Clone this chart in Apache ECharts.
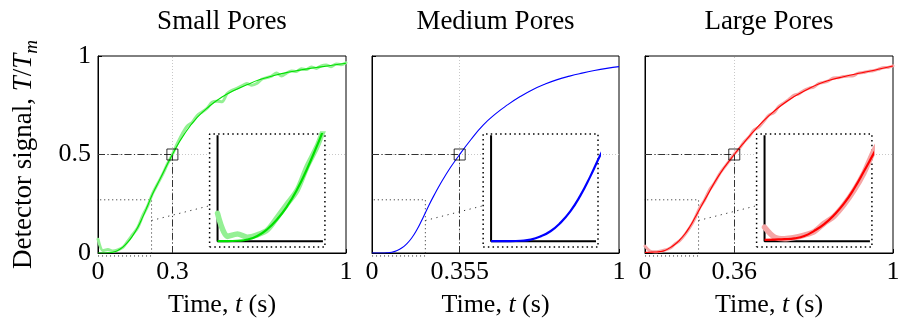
<!DOCTYPE html>
<html>
<head>
<meta charset="utf-8">
<script src="https://cdn.jsdelivr.net/npm/echarts@6/dist/echarts.min.js"></script>
<style>
html,body{margin:0;padding:0;background:#fff}
#main{width:898px;height:323px}
</style>
</head>
<body>
<div id="main"></div>
<script>
var titles = ['Small Pores', 'Medium Pores', 'Large Pores'];
var halfTimes = [0.3, 0.355, 0.36];
var yTicks = [0, 0.5, 1];

// fitted curves
var smallT = [0, 0.02, 0.04, 0.06, 0.08, 0.10, 0.12, 0.14, 0.16, 0.18, 0.20, 0.22, 0.25, 0.30, 0.35, 0.40, 0.45, 0.50, 0.55, 0.60, 0.65, 0.70, 0.75, 0.80, 0.85, 0.90, 0.95, 1.00];
var smallFit = [0.000, 0.000, 0.001, 0.004, 0.013, 0.030, 0.055, 0.088, 0.130, 0.182, 0.240, 0.300, 0.375, 0.500, 0.607, 0.688, 0.746, 0.792, 0.826, 0.854, 0.879, 0.897, 0.913, 0.925, 0.936, 0.945, 0.954, 0.963];
var mediumT = [0, 0.02, 0.04, 0.06, 0.08, 0.10, 0.12, 0.14, 0.16, 0.18, 0.20, 0.22, 0.25, 0.30, 0.355, 0.40, 0.45, 0.50, 0.55, 0.60, 0.65, 0.70, 0.75, 0.80, 0.85, 0.90, 0.95, 1.00];
var mediumFit = [0.000, 0.000, 0.000, 0.001, 0.004, 0.012, 0.025, 0.046, 0.075, 0.114, 0.162, 0.215, 0.290, 0.400, 0.500, 0.575, 0.649, 0.706, 0.753, 0.794, 0.829, 0.857, 0.880, 0.898, 0.913, 0.926, 0.937, 0.946];
var largeT = [0, 0.02, 0.04, 0.06, 0.08, 0.10, 0.12, 0.14, 0.16, 0.18, 0.20, 0.22, 0.25, 0.30, 0.36, 0.40, 0.45, 0.50, 0.55, 0.60, 0.65, 0.70, 0.75, 0.80, 0.85, 0.90, 0.95, 1.00];
var largeFit = [0.003, 0.004, 0.005, 0.007, 0.013, 0.026, 0.043, 0.066, 0.095, 0.132, 0.176, 0.222, 0.290, 0.398, 0.500, 0.562, 0.634, 0.697, 0.750, 0.793, 0.827, 0.858, 0.879, 0.895, 0.909, 0.921, 0.935, 0.949];

// measured signal (small and large pores)
var sampleT = [0, 0.02, 0.04, 0.06, 0.08, 0.10, 0.12, 0.14, 0.16, 0.18, 0.20, 0.22, 0.24, 0.26, 0.28, 0.30, 0.32, 0.34, 0.36, 0.38, 0.40, 0.42, 0.44, 0.46, 0.48, 0.50, 0.52, 0.54, 0.56, 0.58, 0.60, 0.62, 0.64, 0.66, 0.68, 0.70, 0.72, 0.74, 0.76, 0.78, 0.80, 0.82, 0.84, 0.86, 0.88, 0.90, 0.92, 0.94, 0.96, 0.98, 1.00];
var smallData = [0.070, 0.012, 0.018, 0.010, 0.016, 0.028, 0.060, 0.094, 0.128, 0.188, 0.238, 0.302, 0.350, 0.398, 0.452, 0.500, 0.556, 0.606, 0.645, 0.664, 0.698, 0.716, 0.735, 0.765, 0.770, 0.768, 0.808, 0.826, 0.836, 0.848, 0.860, 0.852, 0.860, 0.882, 0.890, 0.898, 0.914, 0.898, 0.913, 0.924, 0.921, 0.935, 0.931, 0.944, 0.937, 0.950, 0.954, 0.946, 0.960, 0.956, 0.966];
var largeData = [0.035, 0.010, 0.006, 0.009, 0.015, 0.024, 0.045, 0.063, 0.092, 0.128, 0.172, 0.228, 0.268, 0.320, 0.355, 0.400, 0.435, 0.468, 0.503, 0.530, 0.565, 0.590, 0.625, 0.640, 0.670, 0.700, 0.712, 0.745, 0.762, 0.780, 0.800, 0.808, 0.825, 0.836, 0.842, 0.860, 0.866, 0.874, 0.888, 0.890, 0.896, 0.898, 0.900, 0.913, 0.916, 0.922, 0.925, 0.932, 0.940, 0.942, 0.950];

// zoomed window (data units) and where its 2x blow-up sits in the panel
var zoomT = [-0.016, 0.216];
var zoomV = [-0.015, 0.27];
var insetT = [0.45, 0.915];
var insetV = [0.03, 0.604];
var insetAxisEnd = [0.212, 0.267];
var linkFrom = [0.216, 0.165];
var linkTo = [0.45, 0.24];

var fits = [[smallT, smallFit], [mediumT, mediumFit], [largeT, largeFit]];
var noisy = [smallData, null, largeData];
var colors = ['#00e000', '#0000ff', '#ff0000'];
var lightColors = ['#94f094', null, '#f5a5a5'];

var font = 'Liberation Serif';
var panelLeft = [98, 372, 645];
var panelWidth = [248, 247, 248];
var panelTop = 56, panelHeight = 197;

function zip(xs, ys){
	return xs.map(function (x, i){ return [x, ys[i]]; });
}
function box(xr, yr){
	return [[xr[0], yr[0]], [xr[1], yr[0]], [xr[1], yr[1]], [xr[0], yr[1]], [xr[0], yr[0]]];
}
function fmt(v){ return String(v); }

var chart = echarts.init(document.getElementById('main'));
var grids = [], xAxes = [], yAxes = [], series = [], graphics = [];

for (var p = 0; p < 3; p++){
	var th = halfTimes[p];
	var gl = panelLeft[p], gw = panelWidth[p];
	var mg = grids.length;   // main panel grid / axes index
	var ig = mg + 1;         // blow-up grid / axes index

	grids.push({
		left: gl, top: panelTop, width: gw, height: panelHeight,
		show: true, borderColor: '#000', borderWidth: 1, backgroundColor: 'transparent',
		containLabel: false, outerBoundsMode: 'none'
	});
	xAxes.push({
		gridIndex: mg, type: 'value', min: 0, max: 1,
		name: 'Time, {i|t} (s)', nameLocation: 'middle', nameGap: 39,
		nameTextStyle: {fontFamily: font, fontSize: 26, color: '#000',
			rich: {i: {fontFamily: font, fontSize: 26, fontStyle: 'italic', color: '#000'}}},
		axisLine: {show: true, lineStyle: {color: '#000', width: 1}},
		axisTick: {show: true, inside: true, length: 4, customValues: [0, th, 1], lineStyle: {color: '#000'}},
		axisLabel: {customValues: [0, th, 1], formatter: fmt, margin: 6, fontFamily: font, fontSize: 26, color: '#000'},
		splitLine: {show: false}
	});
	yAxes.push({
		gridIndex: mg, type: 'value', min: 0, max: 1,
		name: p === 0 ? 'Detector signal, {i|T}/{i|T}{m|m}' : '',
		nameLocation: 'middle', nameGap: 61,
		nameTextStyle: {fontFamily: font, fontSize: 27, color: '#000',
			rich: {
				i: {fontFamily: font, fontSize: 27, fontStyle: 'italic', color: '#000'},
				m: {fontFamily: font, fontSize: 19, fontStyle: 'italic', color: '#000', verticalAlign: 'bottom', padding: [0, 0, -4, 0]}
			}},
		axisLine: {show: true, lineStyle: {color: '#000', width: 1}},
		axisTick: {show: true, inside: true, length: 4, customValues: yTicks, lineStyle: {color: '#000'}},
		axisLabel: {show: p === 0, customValues: yTicks, formatter: fmt, margin: 7, fontFamily: font, fontSize: 26, color: '#000'},
		splitLine: {show: false}
	});

	// blow-up box
	grids.push({
		left: gl + insetT[0] * gw,
		top: panelTop + (1 - insetV[1]) * panelHeight,
		width: (insetT[1] - insetT[0]) * gw,
		height: (insetV[1] - insetV[0]) * panelHeight,
		show: true, borderWidth: 0, backgroundColor: '#fff', z: 10,
		containLabel: false, outerBoundsMode: 'none'
	});
	xAxes.push({gridIndex: ig, type: 'value', min: zoomT[0], max: zoomT[1], show: false});
	yAxes.push({gridIndex: ig, type: 'value', min: zoomV[0], max: zoomV[1], show: false});

	// window outline + guide lines
	series.push({
		type: 'line', xAxisIndex: mg, yAxisIndex: mg, data: box(zoomT, zoomV),
		showSymbol: false, clip: false, silent: true, z: 3,
		lineStyle: {color: '#222', width: 1, type: [1, 3]},
		markLine: {
			silent: true, symbol: ['none', 'none'], label: {show: false}, animation: false,
			data: [
				[{coord: [th, 0], lineStyle: {color: '#c8c8c8', width: 1, type: [1, 2]}}, {coord: [th, 1]}],
				[{coord: [0, 0.5], lineStyle: {color: '#c8c8c8', width: 1, type: [1, 2]}}, {coord: [1, 0.5]}],
				[{coord: [0, 0.5], lineStyle: {color: '#333', width: 1, type: [7, 2.5, 1.2, 2.5]}}, {coord: [th, 0.5]}],
				[{coord: [th, 0], lineStyle: {color: '#333', width: 1, type: [7, 2.5, 1.2, 2.5]}}, {coord: [th, 0.5]}],
				[{coord: linkFrom, lineStyle: {color: '#333', width: 1, type: [1.2, 4.5]}}, {coord: linkTo}]
			]
		}
	});
	if (noisy[p]){
		series.push({
			type: 'line', xAxisIndex: mg, yAxisIndex: mg, data: zip(sampleT, noisy[p]),
			showSymbol: false, smooth: 0.3, clip: false, silent: true, z: 4,
			lineStyle: {color: lightColors[p], width: 3, cap: 'round', join: 'round'}
		});
	}
	series.push({
		type: 'line', xAxisIndex: mg, yAxisIndex: mg, data: zip(fits[p][0], fits[p][1]),
		showSymbol: false, smooth: 0.5, silent: true, z: 5,
		lineStyle: {color: colors[p], width: 1.1}
	});
	series.push({
		type: 'scatter', xAxisIndex: mg, yAxisIndex: mg, data: [[th, 0.5]],
		symbol: 'rect', symbolSize: 11, silent: true, z: 6,
		itemStyle: {color: 'rgba(0,0,0,0)', borderColor: '#000', borderWidth: 1}
	});

	// inside the blow-up
	series.push({
		type: 'line', xAxisIndex: ig, yAxisIndex: ig, data: box(zoomT, zoomV),
		showSymbol: false, clip: false, silent: true, z: 11,
		lineStyle: {color: '#000', width: 1.5, type: [1.5, 3.2]}
	});
	series.push({
		type: 'line', xAxisIndex: ig, yAxisIndex: ig,
		data: [[0, insetAxisEnd[1]], [0, 0], [insetAxisEnd[0], 0]],
		showSymbol: false, clip: false, silent: true, z: 12,
		lineStyle: {color: '#000', width: 2}
	});
	if (noisy[p]){
		series.push({
			type: 'line', xAxisIndex: ig, yAxisIndex: ig, data: zip(sampleT, noisy[p]),
			showSymbol: false, smooth: 0.3, clip: true, silent: true, z: 13,
			lineStyle: {color: lightColors[p], width: 5.5, cap: 'round', join: 'round'}
		});
	}
	series.push({
		type: 'line', xAxisIndex: ig, yAxisIndex: ig, data: zip(fits[p][0], fits[p][1]),
		showSymbol: false, smooth: 0.5, clip: true, silent: true, z: 14,
		lineStyle: {color: colors[p], width: 2.2}
	});

	graphics.push({
		type: 'text', x: gl + gw / 2, y: 22,
		style: {text: titles[p], font: '27px "' + font + '"', fill: '#000',
			textAlign: 'center', textVerticalAlign: 'middle', align: 'center', verticalAlign: 'middle'}
	});
}

chart.setOption({
	backgroundColor: '#fff',
	animation: false,
	textStyle: {fontFamily: font},
	graphic: graphics,
	grid: grids,
	xAxis: xAxes,
	yAxis: yAxes,
	series: series
});
</script>
</body>
</html>
